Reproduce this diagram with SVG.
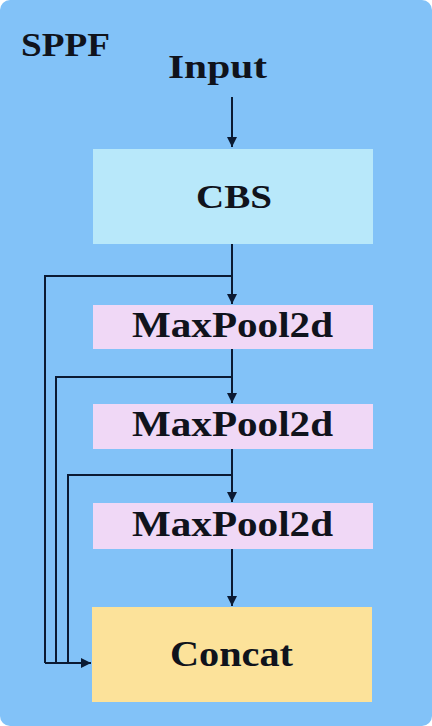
<svg xmlns="http://www.w3.org/2000/svg" width="432" height="726" viewBox="0 0 432 726">
<style>
.t{font-family:"Liberation Serif","Times New Roman",serif;font-weight:bold;fill:#10131c;text-anchor:middle}
.ln{fill:none;stroke:#0b1a33;stroke-width:2}
</style>
<defs>
<marker id="ah" viewBox="0 0 10 10" refX="10" refY="5" markerWidth="5" markerHeight="5" orient="auto" markerUnits="strokeWidth">
<path d="M0,0 L10,5 L0,10 z" fill="#0b1a33"/>
</marker>
</defs>
<rect x="0" y="0" width="432" height="726" fill="#ffffff"/>
<rect id="bg" x="0" y="0" width="432" height="726" rx="10" fill="#82c2f8"/>
<text class="t" x="65.5" y="56" font-size="33" textLength="89" lengthAdjust="spacingAndGlyphs">SPPF</text>
<g id="input"><text class="t" x="217.5" y="78" font-size="34" textLength="99" lengthAdjust="spacingAndGlyphs">Input</text></g>
<g id="cbs"><rect x="93" y="149" width="280" height="95" fill="#b8e8fa"/><text class="t" x="234" y="208" font-size="34" textLength="76" lengthAdjust="spacingAndGlyphs">CBS</text></g>
<g id="mp1"><rect x="93" y="305" width="280" height="44" fill="#f0d8f6"/><text class="t" x="232.5" y="337" font-size="35" textLength="201" lengthAdjust="spacingAndGlyphs">MaxPool2d</text></g>
<g id="mp2"><rect x="93" y="404" width="280" height="45" fill="#f0d8f6"/><text class="t" x="232.5" y="436" font-size="35" textLength="201" lengthAdjust="spacingAndGlyphs">MaxPool2d</text></g>
<g id="mp3"><rect x="93" y="503" width="280" height="46" fill="#f0d8f6"/><text class="t" x="232.5" y="536" font-size="35" textLength="201" lengthAdjust="spacingAndGlyphs">MaxPool2d</text></g>
<g id="concat"><rect x="92" y="607" width="280" height="95" fill="#fce29a"/><text class="t" x="231.5" y="666" font-size="35" textLength="123" lengthAdjust="spacingAndGlyphs">Concat</text></g>
<g id="connectors">
<path class="ln" d="M232,97 V147" marker-end="url(#ah)"/>
<path class="ln" d="M232,244 V304" marker-end="url(#ah)"/>
<path class="ln" d="M232,349 V403" marker-end="url(#ah)"/>
<path class="ln" d="M232,449 V502" marker-end="url(#ah)"/>
<path class="ln" d="M232,549 V606" marker-end="url(#ah)"/>
<path class="ln" d="M232,276 H45 V663"/>
<path class="ln" d="M232,377 H56 V663"/>
<path class="ln" d="M232,475 H68 V663"/>
<path class="ln" d="M45,663 H91" marker-end="url(#ah)"/>
</g>
</svg>
